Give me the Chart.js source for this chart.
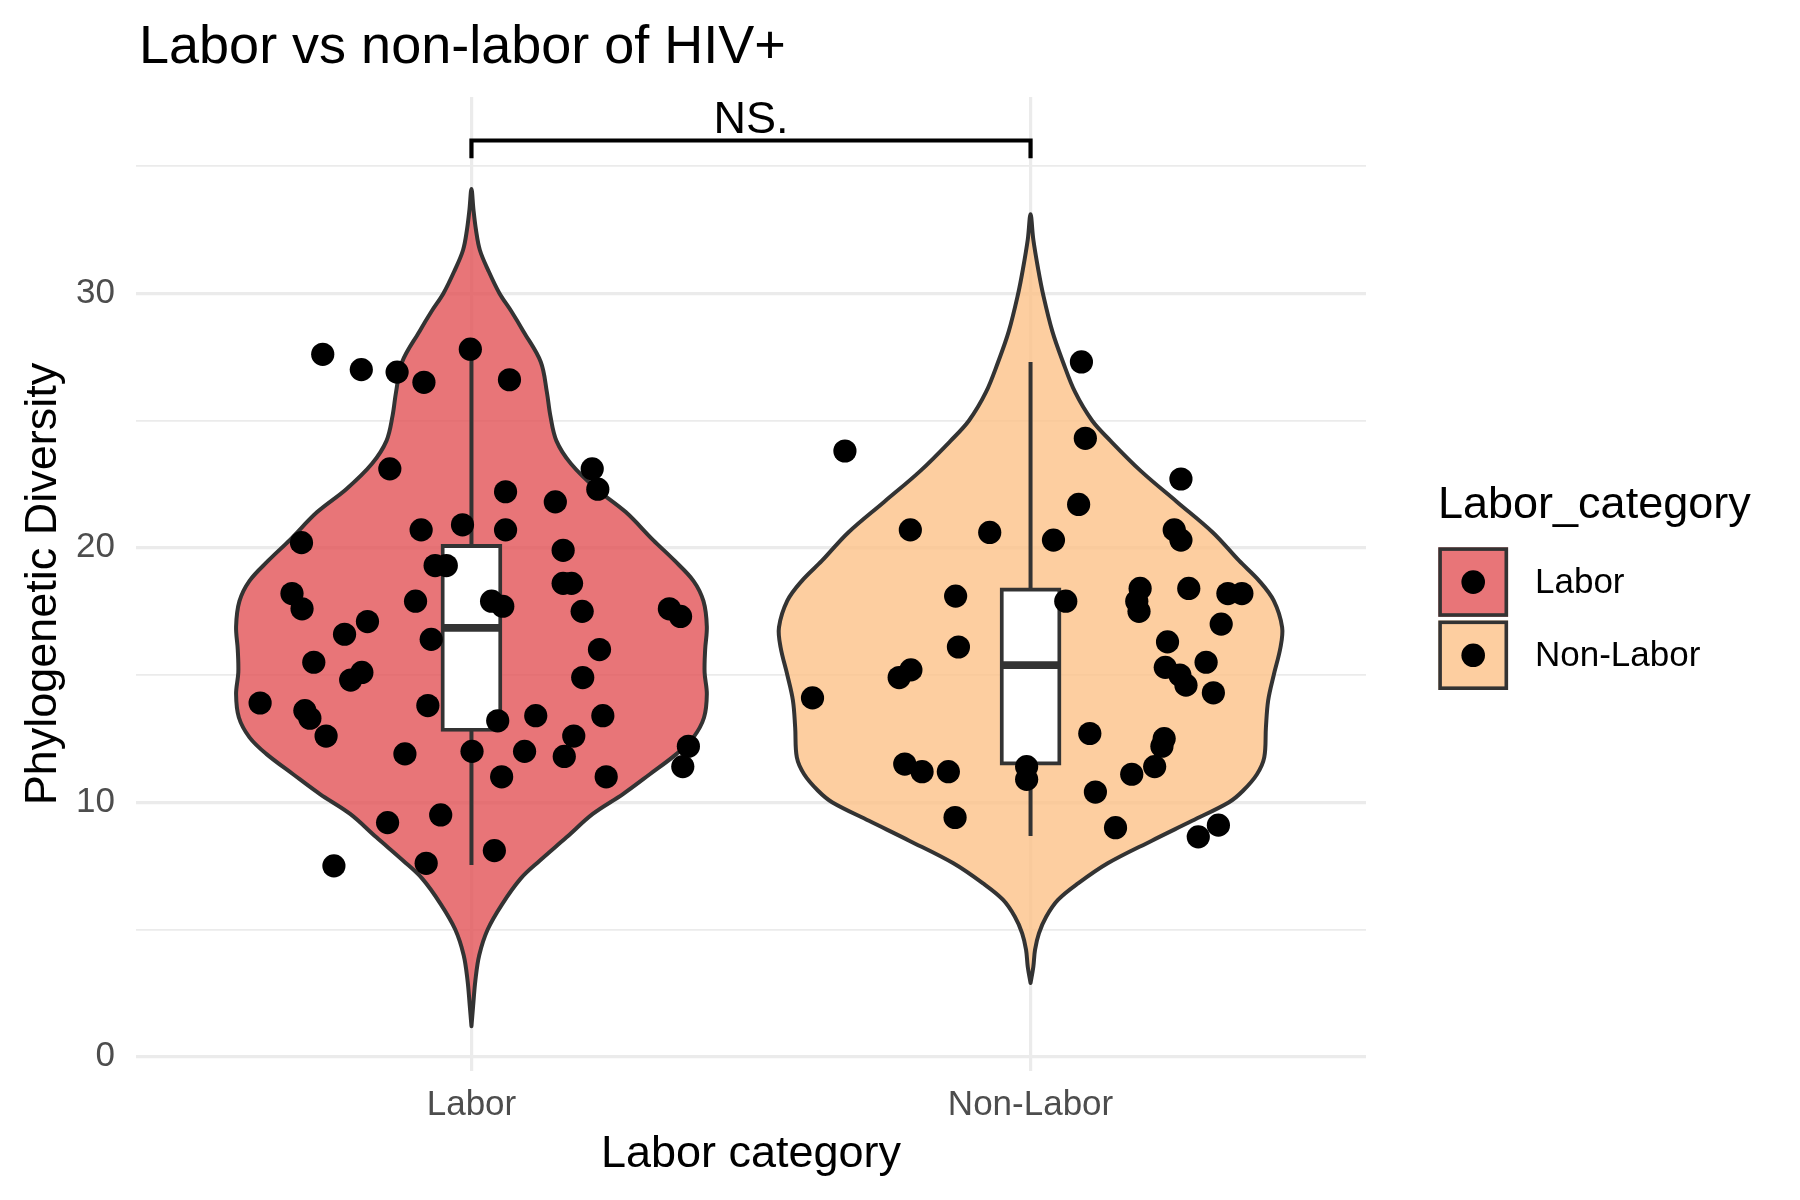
<!DOCTYPE html>
<html>
<head>
<meta charset="utf-8">
<script src="https://cdn.jsdelivr.net/npm/chart.js@4.4.1/dist/chart.umd.min.js"></script>
<style>
html,body{margin:0;padding:0;background:#ffffff;}
#wrap{width:1800px;height:1200px;position:relative;}
</style>
</head>
<body>
<div id="wrap"><canvas id="chart" width="1800" height="1200"></canvas></div>
<script>
// ---------------- data ----------------
const categories = ['Labor', 'Non-Labor'];
const categoryPos = [1, 2];
const yTickLabels = [0, 10, 20, 30];
const yGridValues = [0, 5, 10, 15, 20, 25, 30, 35];

const chartTitle = 'Labor vs non-labor of HIV+';
const xAxisTitle = 'Labor category';
const yAxisTitle = 'Phylogenetic Diversity';
const legendTitle = 'Labor_category';
const sigLabel = 'NS.';
const sigBracketY = 36.0;
const sigTickY = 35.3;
const sigTextY = 36.3;

// jittered observations (x = jittered category position, y = value)
const laborX = [0.734,0.803,0.867,0.915,0.998,1.068,0.854,1.216,1.226,1.061,1.150,0.696,0.910,0.984,1.061,1.164,0.935,0.955,1.164,1.179,0.679,0.697,0.900,1.036,1.056,1.198,1.354,1.374,0.814,0.773,0.928,1.229,0.718,0.804,0.784,1.199,0.622,0.702,0.711,0.922,1.047,1.115,1.235,0.740,1.183,0.881,1.001,1.095,1.166,1.388,1.378,1.054,1.241,0.850,0.945,0.754,0.919,1.041];
const laborY = [27.6,27.0,26.9,26.5,27.8,26.6,23.1,23.1,22.3,22.2,21.8,20.2,20.7,20.9,20.7,19.9,19.3,19.3,18.6,18.6,18.2,17.6,17.9,17.9,17.7,17.5,17.6,17.3,17.1,16.6,16.4,16.0,15.5,15.1,14.8,14.9,13.9,13.6,13.3,13.8,13.2,13.4,13.4,12.6,12.6,11.9,12.0,12.0,11.8,12.2,11.4,11.0,11.0,9.2,9.5,7.5,7.6,8.1];

const nonLaborX = [2.091,1.668,2.098,2.269,2.086,1.785,1.927,2.041,2.257,2.269,1.866,2.063,2.196,2.190,2.194,2.283,2.353,2.378,2.341,1.871,2.245,2.314,2.241,2.267,2.278,2.327,1.786,1.765,1.610,2.106,2.239,2.235,1.775,1.806,1.853,1.993,1.993,2.181,2.222,2.116,1.865,2.152,2.300,2.336];
const nonLaborY = [27.3,23.8,24.3,22.7,21.7,20.7,20.6,20.3,20.7,20.3,18.1,17.9,18.4,17.9,17.5,18.4,18.2,18.2,17.0,16.1,16.3,15.5,15.3,15.0,14.6,14.3,15.2,14.9,14.1,12.7,12.5,12.2,11.5,11.2,11.2,11.4,10.9,11.1,11.4,10.4,9.4,9.0,8.64,9.1];

// violin outlines: value and half-width (category units)
const laborViolinY  = [1.2,2,3,4,5,6,7,7.7,8.62,9.54,10.32,11.1,11.9,12.55,13.33,14.25,15.1,16.0,16.9,17.9,18.7,19.5,20.3,21.4,22.3,23.3,24.2,25.2,26.1,27.3,28.5,29.3,30,30.9,31.7,32.5,33.3,34.1];
const laborViolinHW = [0,0.003,0.007,0.014,0.029,0.055,0.088,0.122,0.17,0.217,0.271,0.319,0.367,0.397,0.416,0.421,0.417,0.418,0.421,0.415,0.397,0.363,0.325,0.276,0.224,0.178,0.152,0.141,0.135,0.124,0.093,0.071,0.05,0.03,0.015,0.008,0.0035,0];
const nonLaborViolinY  = [2.9,3.54,4.2,4.85,5.5,6.16,6.81,7.6,8.49,9.27,10.0,10.45,11.1,11.76,12.94,14.0,15.0,16.08,16.87,17.92,18.7,19.49,20.6,21.8,23.0,24.2,25.0,26.1,27.3,28.5,30.0,30.9,32.1,33.1];
const nonLaborViolinHW = [0,0.005,0.008,0.015,0.028,0.049,0.085,0.138,0.217,0.289,0.355,0.38,0.405,0.418,0.421,0.425,0.435,0.447,0.45,0.435,0.409,0.373,0.326,0.262,0.198,0.143,0.11,0.08,0.058,0.039,0.022,0.014,0.005,0];

// box plot statistics: [lower whisker, Q1, median, Q3, upper whisker]
const laborBox = [7.53, 12.78, 16.85, 20.13, 27.8];
const nonLaborBox = [8.67, 11.46, 15.39, 18.42, 27.3];

// ---------------- style ----------------
const FONT = '"Liberation Sans", Arial, Helvetica, sans-serif';
const fillColors = ['rgba(226,82,86,0.8)', 'rgba(252,194,136,0.8)'];
const outline = '#333333';
const gridColor = '#EBEBEB';
const boxHalf = 0.05;

function violinShape(center, ys, hws) {
  const right = ys.map((y, i) => ({x: center + hws[i], y: y}));
  const left = [];
  for (let i = ys.length - 2; i >= 0; i--) left.push({x: center - hws[i], y: ys[i]});
  return right.concat(left);
}

const boxes = [laborBox, nonLaborBox];

const datasets = [];
// jitter points (top)
datasets.push({type:'scatter', label:'pts-labor', data: laborX.map((x,i)=>({x:x, y:laborY[i]})),
  pointRadius: 11.6, pointBackgroundColor:'#000', pointBorderWidth:0, pointHoverRadius:11.6, order:0});
datasets.push({type:'scatter', label:'pts-nonlabor', data: nonLaborX.map((x,i)=>({x:x, y:nonLaborY[i]})),
  pointRadius: 11.6, pointBackgroundColor:'#000', pointBorderWidth:0, pointHoverRadius:11.6, order:0});
// medians
boxes.forEach((b, k) => {
  datasets.push({type:'line', label:'median'+k, data:[{x:categoryPos[k]-boxHalf, y:b[2]},{x:categoryPos[k]+boxHalf, y:b[2]}],
    borderColor: outline, borderWidth: 7.8, pointRadius:0, fill:false, borderCapStyle:'butt', order:1});
});
// boxes
datasets.push({type:'bar', label:'boxes', data: boxes.map((b,k)=>({x:categoryPos[k], y:[b[1], b[3]]})),
  backgroundColor:'#ffffff', borderColor: outline, borderWidth: 3.9, borderSkipped:false, barThickness: 61, grouped:false, order:2});
// whiskers
boxes.forEach((b, k) => {
  datasets.push({type:'line', label:'whisker'+k, data:[{x:categoryPos[k], y:b[0]},{x:categoryPos[k], y:b[4]}],
    borderColor: outline, borderWidth: 4, pointRadius:0, fill:false, borderCapStyle:'butt', order:3});
});
// violins
datasets.push({type:'line', label:'violin-labor', data: violinShape(categoryPos[0], laborViolinY, laborViolinHW),
  borderColor: outline, borderWidth: 4, backgroundColor: fillColors[0], fill:'shape', pointRadius:0, tension:0.35, borderCapStyle:'round', borderJoinStyle:'round', order:4});
datasets.push({type:'line', label:'violin-nonlabor', data: violinShape(categoryPos[1], nonLaborViolinY, nonLaborViolinHW),
  borderColor: outline, borderWidth: 4, backgroundColor: fillColors[1], fill:'shape', pointRadius:0, tension:0.35, borderCapStyle:'round', borderJoinStyle:'round', order:4});

const decorPlugin = {
  id: 'decor',
  afterDraw(chart) {
    const ctx = chart.ctx;
    const xs = chart.scales.x, ys = chart.scales.y;
    const area = chart.chartArea;
    ctx.save();
    ctx.fillStyle = '#000';
    ctx.textBaseline = 'alphabetic';
    // title
    ctx.font = '54px ' + FONT;
    ctx.textAlign = 'left';
    ctx.fillText(chartTitle, 139, 63);
    // axis titles
    ctx.font = '45px ' + FONT;
    ctx.textAlign = 'center';
    ctx.fillText(xAxisTitle, (area.left + area.right) / 2, 1167);
    ctx.save();
    ctx.translate(56, (area.top + area.bottom) / 2);
    ctx.rotate(-Math.PI / 2);
    ctx.fillText(yAxisTitle, 0, 0);
    ctx.restore();
    // significance bracket
    const x1 = xs.getPixelForValue(categoryPos[0]);
    const x2 = xs.getPixelForValue(categoryPos[1]);
    const yb = ys.getPixelForValue(sigBracketY);
    const yt = ys.getPixelForValue(sigTickY);
    ctx.strokeStyle = '#000';
    ctx.lineWidth = 4.2;
    ctx.lineJoin = 'miter';
    ctx.beginPath();
    ctx.moveTo(x1, yt); ctx.lineTo(x1, yb); ctx.lineTo(x2, yb); ctx.lineTo(x2, yt);
    ctx.stroke();
    ctx.font = '45px ' + FONT;
    ctx.fillText(sigLabel, (x1 + x2) / 2, ys.getPixelForValue(sigTextY));
    // legend
    ctx.textAlign = 'left';
    ctx.font = '45px ' + FONT;
    ctx.fillText(legendTitle, 1438, 518);
    const keyTops = [547.3, 620.5];
    const labelBase = [593, 666];
    categories.forEach((c, k) => {
      ctx.fillStyle = '#ffffff';
      ctx.fillRect(1438.3, keyTops[k], 69.8, 69.5);
      ctx.fillStyle = fillColors[k];
      ctx.fillRect(1438.3, keyTops[k], 69.8, 69.5);
      ctx.strokeStyle = outline;
      ctx.lineWidth = 3.6;
      ctx.strokeRect(1438.3 + 1.8, keyTops[k] + 1.8, 69.8 - 3.6, 69.5 - 3.6);
      ctx.fillStyle = '#000';
      ctx.beginPath();
      ctx.arc(1473.2, keyTops[k] + 34.8, 11.8, 0, Math.PI * 2);
      ctx.fill();
      ctx.font = '35px ' + FONT;
      ctx.fillText(c, 1535, labelBase[k]);
    });
    ctx.restore();
  }
};

new Chart(document.getElementById('chart'), {
  type: 'scatter',
  data: { datasets: datasets },
  options: {
    responsive: false,
    animation: false,
    events: [],
    layout: { padding: { top: 97, right: 434, bottom: 0, left: 0 } },
    plugins: { legend: { display: false }, title: { display: false }, tooltip: { enabled: false } },
    scales: {
      x: {
        type: 'linear', min: 0.4, max: 2.6, offset: false,
        afterBuildTicks: (s) => { s.ticks = categoryPos.map(v => ({value: v})); },
        afterFit: (s) => { s.height = 129; },
        grid: { color: gridColor, lineWidth: 3.2, drawTicks: false, tickLength: 0, offset: false },
        border: { display: false },
        ticks: {
          color: '#4D4D4D', padding: 13,
          font: { family: FONT, size: 35, lineHeight: 1.2 },
          callback: (v) => { const i = categoryPos.indexOf(v); return i >= 0 ? categories[i] : ''; }
        }
      },
      y: {
        type: 'linear', min: -0.56, max: 37.71, offset: false,
        afterBuildTicks: (s) => { s.ticks = yGridValues.map(v => ({value: v})); },
        afterFit: (s) => { s.width = 136; },
        grid: {
          color: gridColor, drawTicks: false, tickLength: 0, offset: false,
          lineWidth: (c) => (c.tick && yTickLabels.indexOf(c.tick.value) >= 0) ? 3.2 : 1.7
        },
        border: { display: false },
        ticks: {
          color: '#4D4D4D', padding: 21,
          font: { family: FONT, size: 35, lineHeight: 1.2 },
          callback: (v) => yTickLabels.indexOf(v) >= 0 ? String(v) : ''
        }
      }
    }
  },
  plugins: [decorPlugin]
});
</script>
</body>
</html>
